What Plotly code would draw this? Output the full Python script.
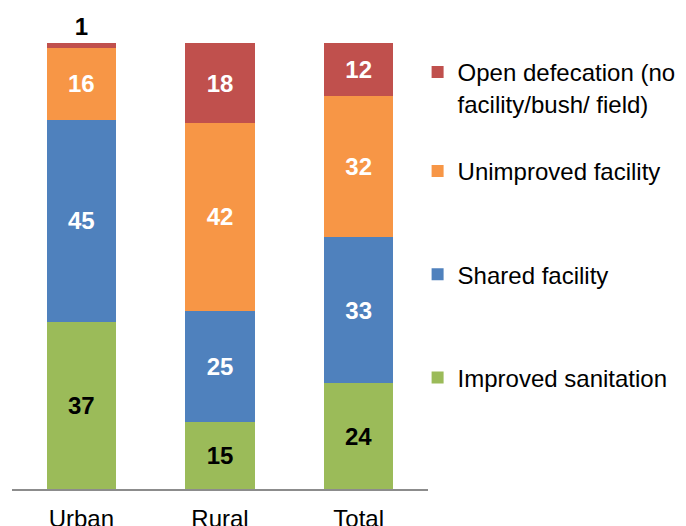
import plotly.graph_objects as go

# sanitation categories, bottom of the stack first
areas = ["Urban", "Rural", "Total"]
series_names = [
    "Improved sanitation",
    "Shared facility",
    "Unimproved facility",
    "Open defecation (no<br>facility/bush/ field)",
]
improved = [37, 15, 24]
shared = [45, 25, 33]
unimproved = [16, 42, 32]
open_defecation = [1, 18, 12]

GREEN = "#9BBB59"
BLUE = "#4F81BD"
ORANGE = "#F79646"
RED = "#C0504D"

FONT = "Liberation Sans, Arial, sans-serif"

fig = go.Figure()

stack = [
    (series_names[0], improved, GREEN, ["black"] * 3, "inside", "legend", 3),
    (series_names[1], shared, BLUE, ["white"] * 3, "inside", "legend", 2),
    (series_names[2], unimproved, ORANGE, ["white"] * 3, "inside", "legend", 1),
    (series_names[3], open_defecation, RED, ["black", "white", "white"],
     ["outside", "inside", "inside"], "legend2", 1),
]

for i, (name, values, color, text_colors, pos, leg, rank) in enumerate(stack):
    fig.add_trace(
        go.Bar(
            x=areas,
            y=values,
            name=name,
            legend=leg,
            legendgroup=f"g{i}",
            legendrank=rank,
            marker=dict(color=color, line=dict(width=0)),
            text=[str(v) for v in values],
            textposition=pos,
            insidetextanchor="middle",
            textangle=0,
            textfont=dict(family=FONT, size=24, color=text_colors, weight="bold"),
            cliponaxis=False,
            hoverinfo="skip",
        )
    )

legend_common = dict(
    x=0.975,
    xanchor="left",
    yanchor="top",
    traceorder="grouped",
    valign="top",
    font=dict(family=FONT, size=24, color="black"),
    bgcolor="rgba(0,0,0,0)",
)

# the page body adds an 8px margin, so the figure is 8px smaller than the window
fig.update_layout(
    width=678,
    height=518,
    barmode="stack",
    barnorm="percent",
    bargap=0.5,
    plot_bgcolor="white",
    paper_bgcolor="white",
    margin=dict(l=4, r=258, t=35, b=37),
    font=dict(family=FONT, size=24, color="black"),
    showlegend=True,
    legend=dict(y=0.7623, tracegroupgap=69, **legend_common),
    legend2=dict(y=0.9843, **legend_common),
    xaxis=dict(
        showline=True,
        linecolor="#8C8C8C",
        linewidth=2,
        ticks="",
        showgrid=False,
        automargin=False,
        tickfont=dict(family=FONT, size=24, color="black"),
        ticklabelstandoff=7,
    ),
    yaxis=dict(
        range=[0, 100],
        visible=False,
        showgrid=False,
        automargin=False,
    ),
)

fig.write_html("out.html")
